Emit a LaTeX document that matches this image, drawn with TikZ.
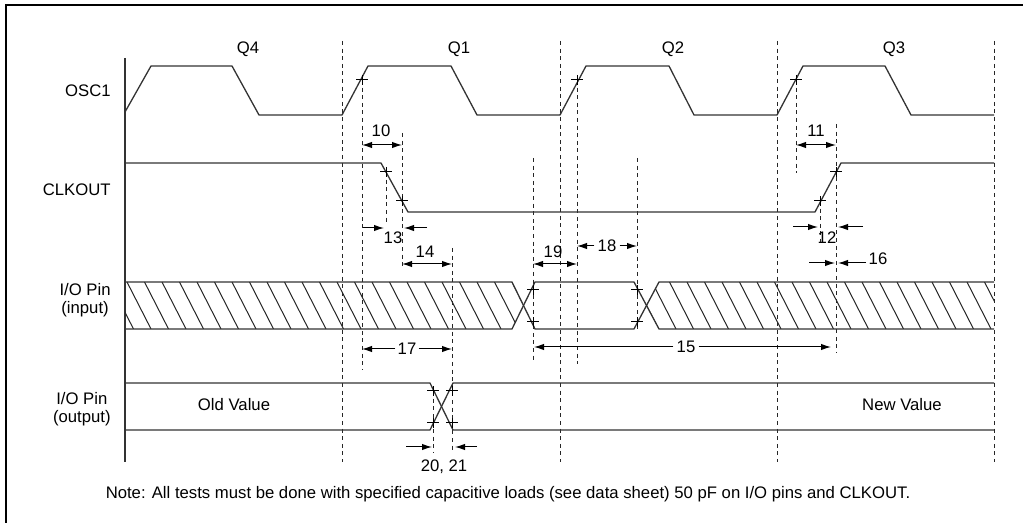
\documentclass[tikz,border=0pt]{standalone}
\usepackage{fontspec}
\setmainfont{Liberation Sans}
\usetikzlibrary{arrows.meta,positioning}

\begin{document}
\begin{tikzpicture}[x=0.5pt, y=-0.5pt,
		sig/.style={draw=black!80, line width=0.65pt},
		hatch/.style={draw=black!85, line width=0.5pt},
		guide/.style={draw=black!85, line width=0.5pt, dash pattern=on 2pt off 1.8pt},
		dim/.style={line width=0.5pt, >={Latex[length=5pt,width=3.2pt]}},
		lbl/.style={inner sep=0pt, font=\fontsize{8.35}{8.9}\selectfont},
		hit/.pic={\draw[line width=0.5pt] (-6,0) -- (6,0) (0,-5) -- (0,5);}]
		\useasboundingbox (0,0) rectangle (1023,523);
		\draw[line width=1pt] (5.5,523) -- (5.5,5.5) -- (1023,5.5);

		\node[lbl] (q4) at (248,49) {Q4};
		\node[lbl] (q1) at (459,49) {Q1};
		\node[lbl] (q2) at (673,49) {Q2};
		\node[lbl] (q3) at (894,49) {Q3};
		\node[lbl, anchor=east] (osc) at (111,91) {OSC1};
		\node[lbl, anchor=east] (clk) at (111,190) {CLKOUT};
		\node[lbl, anchor=north east, align=center] (pinin) at (111,283) {I/O Pin\\(input)};
		\node[lbl, anchor=north east, align=center] (pinout) at (111,392) {I/O Pin\\(output)};

		\draw[sig] (125,58) -- (125,462);
		\foreach \x in {342,560,777,994}
			\draw[guide] (\x,41) -- (\x,462);
		\foreach \x/\a/\b in {362/80/370, 386/172/223, 402/133/268, 452/248/453, 433/391/453, 533/158/362,
				577/80/364, 637/158/330, 796/80/173, 820/201/245, 836/124/353}
			\draw[guide] (\x,\a) -- (\x,\b);

		\draw[sig] (125,112) -- (151,66) -- (232,66) -- (259,115) -- (342,115) -- (368,66) -- (451,66) -- (477,115)
			-- (560,115) -- (586,66) -- (669,66) -- (694,115) -- (777,115) -- (803,66) -- (885,66) -- (911,115) -- (994,115);
		\draw[sig] (125,163) -- (381,163) -- (408,212) -- (815,212) -- (841,163) -- (994,163);

		\begin{scope}
			\clip (125,282) -- (512,282) -- (523.5,305.5) -- (512,329) -- (125,329) -- cycle
				(659,282) -- (994,282) -- (994,329) -- (659,329) -- (646.5,305.5) -- cycle;
			\foreach \k in {0,...,52}
				\draw[hatch] ({92+17.5*\k},282) -- ++(24,47);
		\end{scope}
		\draw[sig] (125,282) -- (512,282) -- (535,329) -- (634,329) -- (659,282) -- (994,282);
		\draw[sig] (125,329) -- (512,329) -- (535,282) -- (634,282) -- (659,329) -- (994,329);

		\draw[sig] (125,383) -- (430,383) -- (453,430) -- (994,430);
		\draw[sig] (125,430) -- (430,430) -- (453,383) -- (994,383);

		\foreach \x/\y in {362/80, 577/80, 796/80, 386/172, 402/201, 820/201, 836/172,
				533/290, 533/322, 637/290, 637/322, 433/391, 433/423, 452/391, 452/423}
			\pic at (\x,\y) {hit};

		\draw[dim, <->] (362,145) -- (402,145);
		\node[lbl] (t10) at (381,131) {10};
		\draw[dim, <->] (796,145) -- (836,145);
		\node[lbl] (t11) at (816,131) {11};
		\draw[dim, ->] (363,228) -- (384,228);
		\draw[dim, ->] (427,228) -- (404,228);
		\node[lbl] (t13) at (393,238) {13};
		\draw[dim, ->] (793,227) -- (818,227);
		\draw[dim, ->] (863,227) -- (838,227);
		\node[lbl] (t12) at (827,238) {12};
		\draw[dim, <->] (402,264) -- (452,264);
		\node[lbl] (t14) at (425,252) {14};
		\draw[dim, <->] (533,264) -- (577,264);
		\node[lbl] (t19) at (553,252) {19};
		\draw[dim, ->] (809,263) -- (835,263);
		\draw[dim, ->] (866,263) -- (838,263);
		\node[lbl] (t16) at (878,259) {16};
		\node[lbl, inner sep=1.5pt] (t18) at (607,246) {18};
		\draw[dim, ->] (t18) -- (577,246);
		\draw[dim, ->] (t18) -- (637,246);
		\node[lbl, inner sep=1pt] (t17) at (407,349) {17};
		\draw[dim, ->] (t17) -- (362,349);
		\draw[dim, ->] (t17) -- (452,349);
		\node[lbl, inner sep=1.5pt] (t15) at (686,347) {15};
		\draw[dim, ->] (t15) -- (534,347);
		\draw[dim, ->] (t15) -- (831,347);
		\draw[dim, ->] (406,447) -- (432,447);
		\draw[dim, ->] (477,447) -- (455,447);
		\node[lbl] (t20) at (444,467) {20, 21};

		\node[lbl] (old) at (234,405) {Old Value};
		\node[lbl] (new) at (902,405) {New Value};
		\node[lbl, anchor=base] (note) at (508,499) {Note: All tests must be done with specified capacitive loads (see data sheet) 50 pF on I/O pins and CLKOUT.};
	\end{tikzpicture}
\end{document}
